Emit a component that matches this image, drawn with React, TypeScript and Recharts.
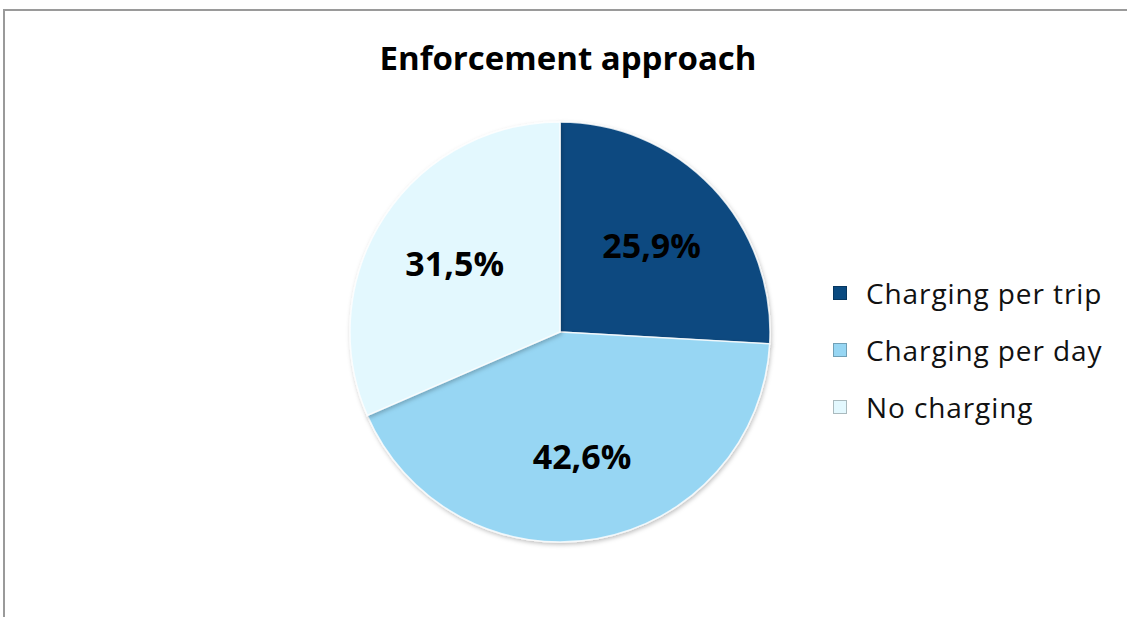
import React from "react";
import { PieChart, Pie, Cell } from "recharts";

const categories = ["Charging per trip", "Charging per day", "No charging"];
const values = [25.9, 42.6, 31.5];
const labels = ["25,9%", "42,6%", "31,5%"];
const colors = ["#0a4a80", "#97d6f3", "#e3f8fe"];
const title = "Enforcement approach";

const data = categories.map((name, i) => ({ name, value: values[i], label: labels[i] }));

const RAD = Math.PI / 180;

const renderLabel = (props: any) => {
  const { cx, cy, midAngle, outerRadius, index } = props;
  const r = outerRadius * 0.6;
  const x = cx + r * Math.cos(-midAngle * RAD);
  const y = cy + r * Math.sin(-midAngle * RAD);
  return (
    <text
      x={x}
      y={y}
      textAnchor="middle"
      dominantBaseline="central"
      fontFamily="'Open Sans', sans-serif"
      fontWeight={700}
      fontSize={34}
      fill="#000"
    >
      {data[index].label}
    </text>
  );
};

export default function App() {
  return (
    <div style={{ position: "fixed", left: 0, top: 0, width: "100vw", height: "100vh", background: "#fff", overflow: "hidden" }}>
      <div
        style={{
          position: "absolute",
          left: 3,
          top: 9,
          right: -20,
          bottom: -20,
          borderTop: "2px solid #9a9a9a",
          borderLeft: "2px solid #9a9a9a",
        }}
      />
      <div
        style={{
          position: "absolute",
          left: 0,
          width: 1136,
          top: 35,
          textAlign: "center",
          fontFamily: "'Open Sans', sans-serif",
          fontWeight: 700,
          fontSize: 33,
          letterSpacing: 0,
          color: "#000",
        }}
      >
        {title}
      </div>
      <div style={{ position: "absolute", left: 0, top: 0 }}>
        <PieChart width={1100} height={617} margin={{ top: 0, right: 0, bottom: 0, left: 0 }}>
          <defs>
            <filter id="sh" x="-10%" y="-10%" width="120%" height="120%">
              <feDropShadow dx="1" dy="2" stdDeviation="2" floodColor="#000" floodOpacity="0.25" />
            </filter>
          </defs>
          <Pie
            data={data}
            dataKey="value"
            nameKey="name"
            cx={560}
            cy={332}
            outerRadius={210}
            startAngle={90}
            endAngle={-270}
            isAnimationActive={false}
            label={renderLabel}
            labelLine={false}
            stroke="rgba(255,255,255,0.8)"
            strokeWidth={1.5}
            style={{ filter: "url(#sh)" }}
          >
            {data.map((d, i) => (
              <Cell key={d.name} fill={colors[i]} />
            ))}
          </Pie>
        </PieChart>
      </div>
      <div
        style={{
          position: "absolute",
          left: 833,
          top: 264,
          fontFamily: "'Open Sans', sans-serif",
          fontSize: 28,
          letterSpacing: 0.9,
          color: "#111",
          whiteSpace: "nowrap",
        }}
      >
        {categories.map((c, i) => (
          <div key={c} style={{ display: "flex", alignItems: "center", height: 57 }}>
            <span
              style={{
                display: "inline-block",
                width: 12,
                height: 12,
                background: colors[i],
                border: "1px solid rgba(0,0,0,0.25)",
                marginRight: 19,
              }}
            />
            <span>{c}</span>
          </div>
        ))}
      </div>
    </div>
  );
}
